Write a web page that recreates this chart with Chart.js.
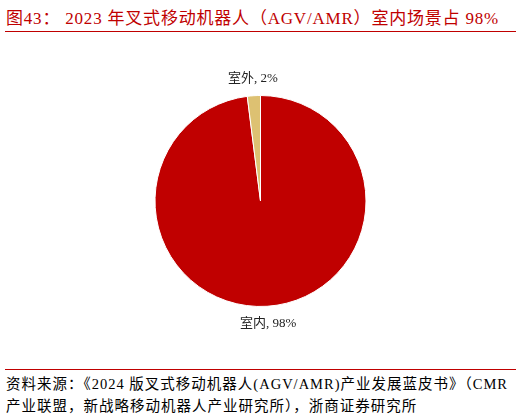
<!DOCTYPE html>
<html>
<head>
<meta charset="utf-8">
<script src="https://cdn.jsdelivr.net/npm/chart.js@4"></script>
<style>
  body { margin: 0; width: 521px; height: 417px; background: #fff; position: relative; overflow: hidden;
         font-family: "Liberation Serif", "Noto Sans CJK SC", serif; }
  #title { position: absolute; left: 6px; top: 4px; font-size: 17px; letter-spacing: 0.8px; color: #C00000; white-space: nowrap; }
  .rule { position: absolute; left: 5px; width: 511px; height: 0; border-top: 1.5px solid #C00000; }
  #source { position: absolute; left: 6px; top: 373px; font-size: 14.5px; letter-spacing: 1px; line-height: 22px; color: #000; white-space: nowrap; }
  #wrap { position: absolute; left: 0; top: 35px; width: 521px; height: 332px; }
</style>
</head>
<body>
<div id="title">图43： 2023 年叉式移动机器人（AGV/AMR）室内场景占 98%</div>
<div class="rule" style="top:31px"></div>
<div id="wrap"><canvas id="pieChart"></canvas></div>
<div class="rule" style="top:369px"></div>
<div id="source">资料来源：《2024 版叉式移动机器人(AGV/AMR)产业发展蓝皮书》（CMR<br>产业联盟，新战略移动机器人产业研究所），浙商证券研究所</div>
<script>
const categories = ['室内', '室外'];
const shares = [98, 2];
const sliceColors = ['#C00000', '#DDC172'];

// labels outside each slice: "name, value%"
const outsideLabels = {
  id: 'outsideLabels',
  afterDatasetsDraw(chart) {
    const c = chart.ctx;
    const meta = chart.getDatasetMeta(0);
    c.save();
    c.font = '13px "Liberation Serif", "Noto Sans CJK SC"';
    c.fillStyle = '#222';
    c.textAlign = 'center';
    c.textBaseline = 'middle';
    meta.data.forEach((arc, i) => {
      const mid = (arc.startAngle + arc.endAngle) / 2;
      const r = arc.outerRadius + 17;
      const x = arc.x + Math.cos(mid) * r;
      const y = arc.y + Math.sin(mid) * r;
      c.fillText(categories[i] + ', ' + shares[i] + '%', x, y);
    });
    c.restore();
  }
};

new Chart(document.getElementById('pieChart'), {
  type: 'pie',
  data: {
    labels: categories,
    datasets: [{
      data: shares,
      backgroundColor: sliceColors,
      borderColor: '#ffffff',
      borderWidth: 1
    }]
  },
  options: {
    responsive: true,
    maintainAspectRatio: false,
    animation: false,
    layout: { padding: { top: 60, bottom: 60 } },
    plugins: {
      legend: { display: false },
      tooltip: { enabled: false }
    }
  },
  plugins: [outsideLabels]
});
</script>
</body>
</html>
